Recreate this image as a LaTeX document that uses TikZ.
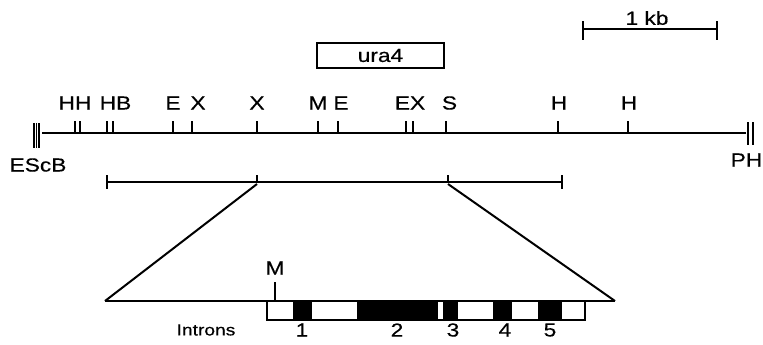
\documentclass[tikz,border=0pt]{standalone}
\usepackage{fontspec}
\setmainfont{Liberation Sans}
\newfontfamily\lblfont[FakeStretch=1.2,FakeBold=0.4]{Liberation Sans}
\begin{document}
\begin{tikzpicture}[x=0.75pt,y=-0.75pt,
  ln/.style={line width=1.5pt},
  thinln/.style={line width=1.2pt},
  lbl/.style={inner sep=0pt,font=\lblfont\fontsize{14.2}{17}\selectfont},
  small/.style={inner sep=0pt,font=\lblfont\fontsize{12}{14}\selectfont}]
\useasboundingbox (0,0) rectangle (763,344);
% scale bar
\coordinate (sbL) at (583,29); \coordinate (sbR) at (717,29);
\draw[ln] (sbL) -- (sbR);
\draw[ln] (583,21) -- (583,40); \draw[ln] (717,21) -- (717,40);
\node[lbl] (kb) at (647,18) {1 kb};
% ura4 box
\node[lbl,draw,line width=1.3pt,minimum width=95pt,minimum height=18.5pt] (ura) at (380.5,55.5) {ura4};
% main line
\coordinate (L) at (42,133); \coordinate (R) at (746,133);
\draw[ln] (L) -- (R);
\foreach \x in {34,36.5,39} \draw[thinln] (\x,123) -- (\x,148);
\foreach \x in {748,753} \draw[thinln] (\x,122) -- (\x,145);
\foreach \x in {75,80,107,113,173,192,257,318,338,406,413,446,558,628}
  \draw[thinln] (\x,133) -- (\x,120.5);
\node[lbl] (hh) at (75,103) {HH};
\node[lbl] (hb) at (115.5,103) {HB};
\node[lbl] (e1) at (173,103) {E};
\node[lbl] (x1) at (198,103) {X};
\node[lbl] (x2) at (257,103) {X};
\node[lbl] (m1) at (318,103) {M};
\node[lbl] (e2) at (341,103) {E};
\node[lbl] (ex) at (410,103) {EX};
\node[lbl] (s1) at (449.5,103) {S};
\node[lbl] (h1) at (559,103) {H};
\node[lbl] (h2) at (629,103) {H};
\node[lbl] (escb) at (38,165) {EScB};
\node[lbl,anchor=east] (ph) at (762.5,160) {PH};
% subclone line
\coordinate (sL) at (107,182); \coordinate (sR) at (562,182);
\coordinate (sX) at (257,182); \coordinate (sS) at (448,182);
\draw[ln] (sL) -- (sR);
\draw[ln] (107,175) -- (107,189); \draw[ln] (562,175) -- (562,189);
\draw[thinln] (sX) -- ++(0,-7); \draw[thinln] (sS) -- ++(0,-7);
% expansion
\coordinate (bL) at (105,301); \coordinate (bR) at (615,301);
\draw[ln] (257,184) -- (bL);
\draw[ln] (448,184) -- (bR);
\draw[ln] (bL) -- (bR);
% gene box
\draw[line width=1.3pt,fill=white] (267,301) rectangle (585,320);
\foreach \a/\b in {293/312,357/438,443/458,493/512,538/562}
  \fill (\a,301) rectangle (\b,320);
\draw[line width=1.3pt] (267,301) rectangle (585,320);
\node[lbl] (n1) at (302,330) {1};
\node[lbl] (n2) at (397,330) {2};
\node[lbl] (n3) at (453,330) {3};
\node[lbl] (n4) at (505,330) {4};
\node[lbl] (n5) at (550,330) {5};
\node[small] (intr) at (206,330) {Introns};
\node[lbl] (mm) at (275,268) {M};
\draw[thinln] (275,282) -- (275,301);
\end{tikzpicture}
\end{document}
